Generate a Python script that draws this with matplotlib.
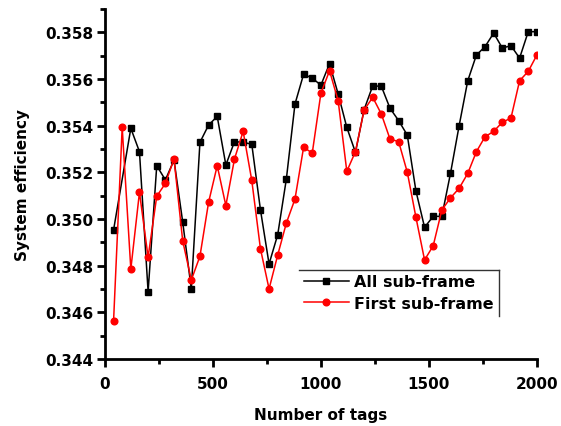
import matplotlib
matplotlib.use("Agg")
import matplotlib.pyplot as plt
from matplotlib.lines import Line2D
from matplotlib.ticker import MultipleLocator

plt.rcParams['font.family'] = ['DejaVu Sans']
plt.rcParams['font.weight'] = 'bold'

# number of tags
x_all = [40, 120, 160, 200, 240, 280, 320, 360, 400, 440, 480, 520, 560, 600,
         640, 680, 720, 760, 800, 840, 880, 920, 960, 1000, 1040, 1080, 1120,
         1160, 1200, 1240, 1280, 1320, 1360, 1400, 1440, 1480, 1520, 1560,
         1600, 1640, 1680, 1720, 1760, 1800, 1840, 1880, 1920, 1960, 2000]
x_first = [40, 80, 120, 160, 200, 240, 280, 320, 360, 400, 440, 480, 520, 560,
           600, 640, 680, 720, 760, 800, 840, 880, 920, 960, 1000, 1040, 1080,
           1120, 1160, 1200, 1240, 1280, 1320, 1360, 1400, 1440, 1480, 1520,
           1560, 1600, 1640, 1680, 1720, 1760, 1800, 1840, 1880, 1920, 1960,
           2000]

all_subframe = [0.34952, 0.35388, 0.35288, 0.34688, 0.35228, 0.35167, 0.35252,
                0.34988, 0.34700, 0.35328, 0.35402, 0.35439, 0.35231, 0.35331,
                0.35328, 0.35320, 0.35040, 0.34807, 0.34932, 0.35170, 0.35492,
                0.35620, 0.35603, 0.35573, 0.35665, 0.35535, 0.35392, 0.35285,
                0.35468, 0.35570, 0.35568, 0.35474, 0.35421, 0.35359, 0.35120,
                0.34964, 0.35011, 0.35011, 0.35195, 0.35399, 0.35592, 0.35702,
                0.35738, 0.35796, 0.35732, 0.35742, 0.35689, 0.35802, 0.35802]
first_subframe = [0.34561, 0.35392, 0.34785, 0.35114, 0.34836, 0.35097, 0.35152,
                  0.35257, 0.34907, 0.34738, 0.34840, 0.35071, 0.35228, 0.35057,
                  0.35257, 0.35375, 0.35165, 0.34873, 0.34700, 0.34845, 0.34982,
                  0.35085, 0.35307, 0.35282, 0.35538, 0.35635, 0.35506, 0.35204,
                  0.35288, 0.35466, 0.35521, 0.35449, 0.35342, 0.35331, 0.35200,
                  0.35007, 0.34824, 0.34885, 0.35038, 0.35090, 0.35131, 0.35195,
                  0.35288, 0.35352, 0.35375, 0.35414, 0.35432, 0.35592, 0.35632,
                  0.35702]

fig = plt.figure(figsize=(5.61, 4.27), dpi=100)
ax = fig.add_axes([0.187, 0.157, 0.77, 0.82])

ax.plot(x_all, all_subframe, color='black', marker='s', markersize=4.3,
        linewidth=1.1, label='All sub-frame')
ax.plot(x_first, first_subframe, color='red', marker='o', markersize=4.8,
        linewidth=1.1, label='First sub-frame')

ax.set_xlim(0, 2000)
ax.set_ylim(0.344, 0.359)
ax.xaxis.set_major_locator(MultipleLocator(500))
ax.xaxis.set_minor_locator(MultipleLocator(250))
ax.yaxis.set_major_locator(MultipleLocator(0.002))
ax.yaxis.set_minor_locator(MultipleLocator(0.001))
ax.yaxis.set_major_formatter(plt.FormatStrFormatter('%.3f'))

for side in ['top', 'right']:
    ax.spines[side].set_visible(False)
for side in ['left', 'bottom']:
    ax.spines[side].set_linewidth(2)
ax.tick_params(which='major', direction='out', length=6, width=2, labelsize=11)
ax.tick_params(which='minor', direction='out', length=3.5, width=2)
ax.tick_params(axis='x', which='major', pad=6)
ax.tick_params(axis='y', which='major', pad=2)

ax.set_xlabel('Number of tags', fontsize=11, fontweight='bold', labelpad=12)
ax.set_ylabel('System efficiency', fontsize=11, fontweight='bold', labelpad=11)

leg = ax.legend(loc='upper right', bbox_to_anchor=(0.912, 0.255),
                borderaxespad=0, frameon=False, handlelength=2.8,
                handletextpad=0.37, borderpad=0.3, labelspacing=0.4,
                prop={'weight': 'bold', 'size': 11.5})

# legend border: only the top and right edges are drawn
fig.canvas.draw()
bb = leg.get_window_extent().transformed(fig.transFigure.inverted())
edge = dict(color='#333333', linewidth=1.0, transform=fig.transFigure)
fig.add_artist(Line2D([bb.x0, bb.x1], [bb.y1, bb.y1], **edge))
fig.add_artist(Line2D([bb.x1, bb.x1], [bb.y0, bb.y1], **edge))

fig.savefig('out.png', dpi=100)
